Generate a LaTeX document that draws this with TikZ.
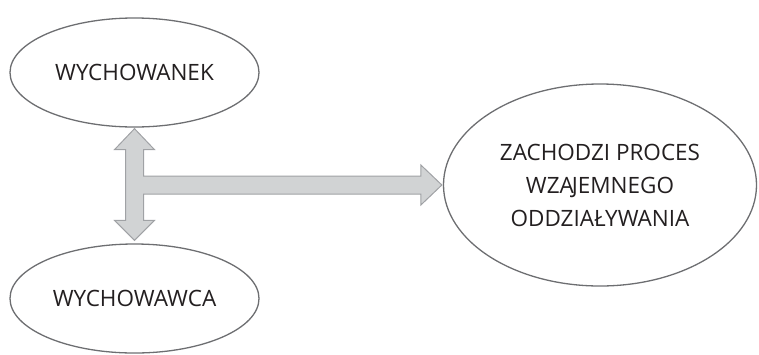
\documentclass[tikz,border=0pt]{standalone}
\usepackage{fontspec}
\setmainfont{Open Sans}
\usetikzlibrary{shapes.geometric,calc}
\definecolor{txt}{HTML}{231F20}
\definecolor{ellline}{HTML}{6D6E71}
\definecolor{arrfill}{HTML}{D1D3D4}
\definecolor{arrline}{HTML}{A0A2A5}
\tikzset{
  oval/.style={ellipse, draw=ellline, line width=1.3pt, inner sep=0pt, text=txt, align=center,
    font=\fontsize{22.5}{33}\selectfont},
  barrow/.style={fill=arrfill, draw=arrline, line width=1pt, line join=miter}
}
\begin{document}
\begin{tikzpicture}[x=1pt,y=-1pt]
\useasboundingbox (0,0) rectangle (759,354);
\node[oval, minimum width=249pt, minimum height=109pt] (a) at (134.5,72.5) {WYCHOWANEK};
\node[oval, minimum width=249pt, minimum height=109pt] (b) at (134.5,298.5) {WYCHOWAWCA};
\node[oval, minimum width=313pt, minimum height=202pt] (c) at (600,185) {ZACHODZI PROCES\\ WZA\kern-2pt JEMNEGO\\ODDZIAŁYWANIA};
\draw[barrow] let \p1=(a.south), \p2=(b.north), \p3=(c.west) in
 (\x1,\y1-1pt) -- (\x1+20pt,\y1-22pt) -- (\x1+9pt,\y1-22pt) -- (\x1+9pt,\y3+9pt)
 -- (\x3-22pt,\y3+9pt) -- (\x3-22pt,\y3+20pt) -- (\x3-1pt,\y3) -- (\x3-22pt,\y3-20pt)
 -- (\x3-22pt,\y3-9pt) -- (\x1+9pt,\y3-9pt) -- (\x1+9pt,\y2+23pt) -- (\x1+20pt,\y2+23pt)
 -- (\x2,\y2+3pt) -- (\x1-20pt,\y2+23pt) -- (\x1-9pt,\y2+23pt) -- (\x1-9pt,\y1-22pt)
 -- (\x1-20pt,\y1-22pt) -- cycle;
\end{tikzpicture}
\end{document}
